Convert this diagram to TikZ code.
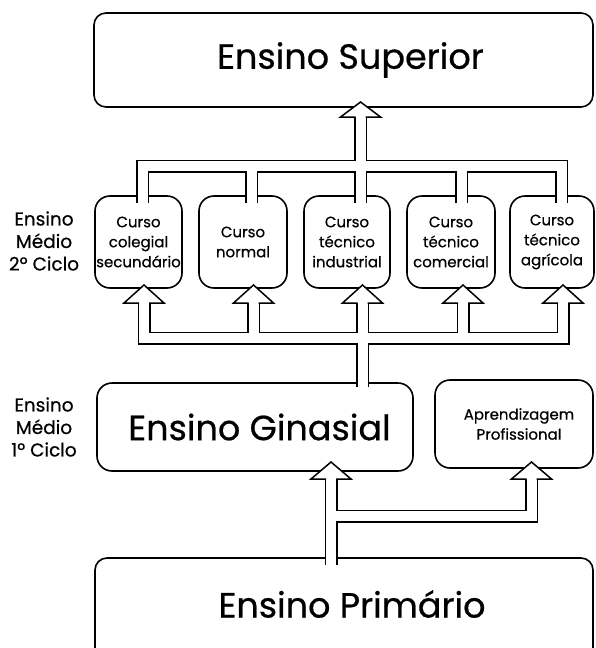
\documentclass[tikz,border=0pt]{standalone}
\usepackage{fontspec}
\setmainfont{Poppins}[FakeBold=0.6]
\newcommand\upheadx[2]{\filldraw[head] ([xshift=-5pt]#1) -- ([xshift=-20pt]#1) -- ([yshift=#2]#1) -- ([xshift=20pt]#1) -- ([xshift=5pt]#1);}
\begin{document}
\begin{tikzpicture}[x=1pt,y=-1pt,
  box/.style={draw, line width=1.6pt, fill=white, rounded corners=#1, inner sep=0pt, align=center},
  box/.default=14pt,
  big/.style={font=\fontsize{35}{40}\selectfont},
  small/.style={font=\fontsize{15}{20}\selectfont},
  side/.style={align=center, inner sep=0pt, font=\fontsize{18.5}{22.5}\selectfont},
  pipeout/.style={line width=13pt, line join=miter, line cap=butt},
  pipein/.style={line width=10pt, draw=white, line join=miter, line cap=butt},
  head/.style={fill=white, draw=black, line width=1.5pt, line join=miter}]
\useasboundingbox (0,0) rectangle (595,648);
\clip (0,0) rectangle (595,648);

% boxes
\node[box=12pt, minimum width=499pt, minimum height=94pt, big] (sup) at (343.5,60) {\hspace*{14pt}Ensino Superior};
\node[box=15pt, minimum width=87pt, minimum height=92pt, small] (c1) at (138.5,242) {Curso\\colegial\\secundário};
\node[box=15pt, minimum width=88pt, minimum height=92pt, small] (c2) at (243,242) {Curso\\normal};
\node[box=15pt, minimum width=86pt, minimum height=92pt, small] (c3) at (347,242) {Curso\\técnico\\industrial};
\node[box=15pt, minimum width=88pt, minimum height=92pt, small] (c4) at (451,242) {Curso\\técnico\\comercial};
\node[box=15pt, minimum width=84pt, minimum height=92pt, small] (c5) at (552,242) {Curso\\técnico\\agrícola};
\node[box=15pt, minimum width=316pt, minimum height=88pt, big] (gin) at (255,427) {\hspace*{9pt}Ensino Ginasial};
\node[box=15pt, minimum width=158pt, minimum height=88pt, font=\fontsize{15}{20}\selectfont] (apr) at (514,424) {\hspace*{10pt}Aprendizagem\\\hspace*{10pt}Profissional};
\node[box=12pt, minimum width=498pt, minimum height=110pt] (pri) at (344,613) {};
\node[big, inner sep=0pt] (priT) at (352,604) {Ensino Primário};

% side labels
\node[side] (l2) at (44,241) {Ensino\\Médio\\2º Ciclo};
\node[side] (l1) at (44,427) {Ensino\\Médio\\1º Ciclo};

% pipe coordinates
\coordinate (a1) at (142.5,203); \coordinate (a1t) at (142.5,166);
\coordinate (a2) at (251.5,203); \coordinate (a2t) at (251.5,166);
\coordinate (a3) at (360.5,203); \coordinate (a3t) at (360.5,117);
\coordinate (a4) at (461.5,203); \coordinate (a4t) at (461.5,166);
\coordinate (a5) at (561.5,203); \coordinate (a5t) at (561.5,166);

\coordinate (b1) at (144,303);   \coordinate (b1b) at (144,338);
\coordinate (b2) at (253.5,303); \coordinate (b2b) at (253.5,338);
\coordinate (b3) at (362.5,303); \coordinate (b3b) at (362.5,387);
\coordinate (b4) at (463,303);   \coordinate (b4b) at (463,338);
\coordinate (b5) at (563,303);   \coordinate (b5b) at (563,338);

\coordinate (g1) at (331,479); \coordinate (g1b) at (331,565); \coordinate (gj) at (331,516);
\coordinate (p1) at (531.5,479); \coordinate (p1b) at (531.5,516);

% outer (black) pipes
\draw[pipeout] (a1) -- (a1t) -- (a5t) -- (a5);
\draw[pipeout] (a2) -- (a2t);
\draw[pipeout] (a4) -- (a4t);
\draw[pipeout] (a3) -- (a3t);
\draw[pipeout] (b1) -- (b1b) -- (b5b) -- (b5);
\draw[pipeout] (b2) -- (b2b);
\draw[pipeout] (b4) -- (b4b);
\draw[pipeout] (b3) -- (b3b);
\draw[pipeout] (g1) -- (g1b);
\draw[pipeout] (gj) -- (p1b) -- (p1);

% inner (white) pipes
\draw[pipein] (a1) -- (a1t) -- (a5t) -- (a5);
\draw[pipein] (a2) -- (a2t);
\draw[pipein] (a4) -- (a4t);
\draw[pipein] (a3) -- (a3t);
\draw[pipein] (b1) -- (b1b) -- (b5b) -- (b5);
\draw[pipein] (b2) -- (b2b);
\draw[pipein] (b4) -- (b4b);
\draw[pipein] (b3) -- (b3b);
\draw[pipein] (g1) -- (g1b);
\draw[pipein] (gj) -- (p1b) -- (p1);

% arrow heads
\upheadx{a3t}{15pt}
\upheadx{b1}{18pt}
\upheadx{b2}{18pt}
\upheadx{b3}{18pt}
\upheadx{b4}{18pt}
\upheadx{b5}{18pt}
\upheadx{g1}{17pt}
\upheadx{p1}{17pt}
\end{tikzpicture}
\end{document}
